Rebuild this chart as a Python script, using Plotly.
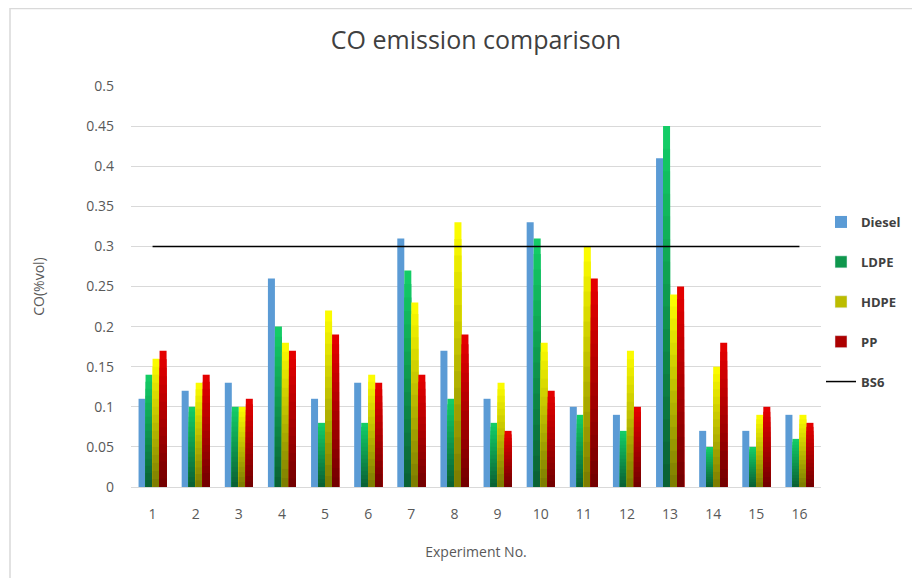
import plotly.graph_objects as go

experiments = list(range(1, 17))
diesel = [0.11, 0.12, 0.13, 0.26, 0.11, 0.13, 0.31, 0.17, 0.11, 0.33, 0.10, 0.09, 0.41, 0.07, 0.07, 0.09]
ldpe   = [0.14, 0.10, 0.10, 0.20, 0.08, 0.08, 0.27, 0.11, 0.08, 0.31, 0.09, 0.07, 0.45, 0.05, 0.05, 0.06]
hdpe   = [0.16, 0.13, 0.10, 0.18, 0.22, 0.14, 0.23, 0.33, 0.13, 0.18, 0.30, 0.17, 0.24, 0.15, 0.09, 0.09]
pp     = [0.17, 0.14, 0.11, 0.17, 0.19, 0.13, 0.14, 0.19, 0.07, 0.12, 0.26, 0.10, 0.25, 0.18, 0.10, 0.08]
bs6_limit = 0.3

series = [
    ("Diesel", diesel, (91, 155, 213), (91, 155, 213)),
    ("LDPE", ldpe, (10, 94, 51), (20, 208, 104)),
    ("HDPE", hdpe, (122, 122, 0), (255, 255, 0)),
    ("PP", pp, (112, 0, 0), (232, 0, 0)),
]

W, H = 912, 570
ML, MR, MT, MB = 123, 99, 78, 91
PW, PH = W - ML - MR, H - MT - MB

fig = go.Figure()
bw = 0.1625
nseg = 16
for i, (name, vals, c_bot, c_top) in enumerate(series):
    offset = -2 * bw + i * bw
    if c_bot == c_top:
        fig.add_trace(go.Bar(
            x=experiments, y=vals, name=name, width=bw, offset=offset,
            marker=dict(color="rgb(%d,%d,%d)" % c_top, line=dict(width=0)),
            legendgroup=name,
        ))
        continue
    # overlapping bars from the baseline: tallest (brightest) first, shorter/darker on top
    for k in range(nseg):
        frac = (nseg - k) / nseg
        t = (nseg - k - 0.5) / nseg
        col = tuple(int(round(c_bot[j] + (c_top[j] - c_bot[j]) * t)) for j in range(3))
        fig.add_trace(go.Bar(
            x=experiments, y=[v * frac for v in vals],
            width=bw, offset=offset, name=name, legendgroup=name,
            showlegend=False, hoverinfo="skip",
            marker=dict(color="rgb(%d,%d,%d)" % col, line=dict(width=0)),
        ))
    fig.add_trace(go.Bar(
        x=[None], y=[None], name=name, legendgroup=name,
        marker=dict(color="rgb(%d,%d,%d)" % tuple((c_bot[j] + c_top[j]) // 2 for j in range(3))),
    ))

fig.add_trace(go.Scatter(
    x=[experiments[0], experiments[-1]], y=[bs6_limit, bs6_limit],
    mode="lines", name="BS6", line=dict(color="black", width=1.5), legendgroup="BS6",
))

axis_font = dict(family="Open Sans, Liberation Sans, sans-serif", size=14, color="#595959")

fig.update_layout(
    width=W, height=H,
    barmode="overlay",
    paper_bgcolor="white", plot_bgcolor="white",
    margin=dict(l=ML, r=MR, t=MT, b=MB),
    title=dict(text="CO emission comparison", x=0.5, xref="paper", y=1 - 32 / H, yref="container",
               xanchor="center", yanchor="middle",
               font=dict(family="Open Sans, Liberation Sans, sans-serif", size=25, color="#404040")),
    showlegend=True,
    legend=dict(x=1.0, xanchor="left", y=(PH + MT - (217 - 8 - 10)) / PH, yanchor="top",
                font=dict(family="Open Sans, Liberation Sans, sans-serif", size=13, color="#404040",
                          weight="bold"),
                tracegroupgap=20, itemwidth=30, bgcolor="rgba(0,0,0,0)"),
    xaxis=dict(range=[0.5, 16.5], tickmode="array", tickvals=experiments,
               ticktext=[str(e) for e in experiments], showgrid=False,
               showline=True, linecolor="#D9D9D9", linewidth=1, ticks="",
               tickfont=axis_font, ticklabelstandoff=14,
               title=dict(text="Experiment No.", font=axis_font, standoff=25)),
    yaxis=dict(range=[0, 0.5], dtick=0.05, tickformat="~g", showgrid=True, gridcolor="#D9D9D9",
               gridwidth=1, zeroline=False, showline=False, tickfont=axis_font,
               ticklabelstandoff=16,
               title=dict(text="CO(%vol)", font=axis_font, standoff=38)),
    shapes=[
        dict(type="line", xref="paper", yref="paper",
             x0=(2 - ML) / PW, x1=(W - ML) / PW, y0=(PH + MT - 0.5) / PH, y1=(PH + MT - 0.5) / PH,
             line=dict(color="#D9D9D9", width=1.5)),
        dict(type="line", xref="paper", yref="paper",
             x0=(2 - ML) / PW, x1=(2 - ML) / PW, y0=(PH + MT) / PH, y1=-MB / PH,
             line=dict(color="#D9D9D9", width=1.5)),
    ],
)

fig.write_html("out.html")
